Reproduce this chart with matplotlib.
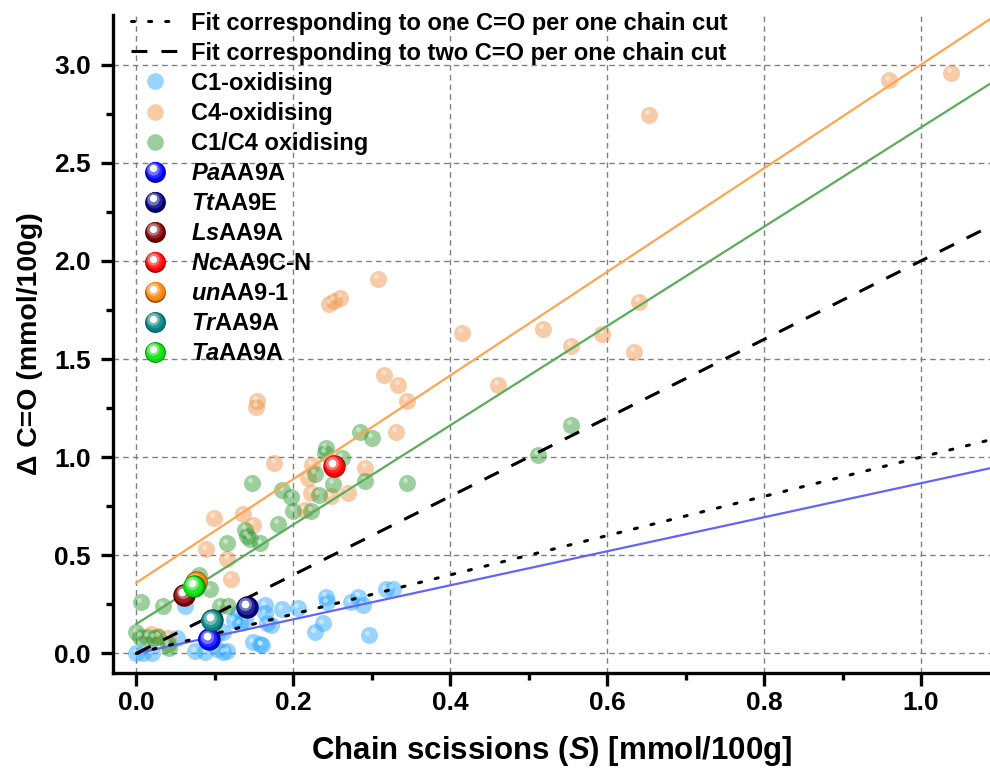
import numpy as np
import matplotlib
matplotlib.use('Agg')
import matplotlib.pyplot as plt
from matplotlib import transforms
from matplotlib.lines import Line2D
from matplotlib.legend_handler import HandlerBase

plt.rcParams['font.family'] = 'Liberation Sans'
plt.rcParams['font.weight'] = 'bold'
plt.rcParams['mathtext.fontset'] = 'custom'
plt.rcParams['mathtext.rm'] = 'Liberation Sans:bold'
plt.rcParams['mathtext.it'] = 'Liberation Sans:italic:bold'
plt.rcParams['mathtext.bf'] = 'Liberation Sans:bold'

# background data
c1_x = [0.164, 0.164, 0.167, 0.185, 0.206, 0.242, 0.243, 0.273, 0.283, 0.289, 0.318, 0.327,
        0.238, 0.228, 0.296, 0.160, 0.062, 0.129, 0.132, 0.148, 0.158, 0.075, 0.088, 0.103,
        0.111, 0.116, 0.000, 0.009, 0.020, 0.052, 0.103, 0.111, 0.124, 0.139, 0.171]
c1_y = [0.245, 0.204, 0.153, 0.224, 0.230, 0.286, 0.260, 0.260, 0.286, 0.245, 0.326, 0.330,
        0.153, 0.107, 0.092, 0.041, 0.240, 0.204, 0.153, 0.056, 0.046, 0.010, 0.005, 0.020,
        0.005, 0.010, 0.000, 0.000, 0.000, 0.080, 0.100, 0.107, 0.168, 0.170, 0.143]

c4_x = [1.038, 0.959, 0.653, 0.308, 0.246, 0.252, 0.260, 0.415, 0.518, 0.641, 0.594, 0.554,
        0.634, 0.316, 0.334, 0.345, 0.461, 0.331, 0.176, 0.292, 0.154, 0.153, 0.224, 0.219,
        0.223, 0.270, 0.248, 0.215, 0.099, 0.136, 0.149, 0.089, 0.116, 0.120, 0.019, 0.027,
        0.040]
c4_y = [2.960, 2.920, 2.745, 1.908, 1.780, 1.796, 1.810, 1.633, 1.653, 1.790, 1.627, 1.566,
        1.536, 1.420, 1.370, 1.285, 1.367, 1.127, 0.969, 0.944, 1.286, 1.255, 0.960, 0.893,
        0.816, 0.816, 0.800, 0.730, 0.690, 0.710, 0.653, 0.530, 0.480, 0.378, 0.100, 0.090,
        0.080]

c14_x = [0.554, 0.512, 0.285, 0.300, 0.242, 0.240, 0.262, 0.228, 0.250, 0.292, 0.345, 0.147,
         0.186, 0.197, 0.233, 0.200, 0.223, 0.180, 0.158, 0.139, 0.141, 0.145, 0.115, 0.080,
         0.094, 0.006, 0.034, 0.107, 0.117, 0.000, 0.005, 0.014, 0.022, 0.028, 0.041, 0.040]
c14_y = [1.163, 1.010, 1.127, 1.100, 1.046, 1.020, 0.995, 0.913, 0.862, 0.878, 0.867, 0.867,
         0.830, 0.796, 0.806, 0.725, 0.725, 0.658, 0.560, 0.630, 0.600, 0.585, 0.560, 0.397,
         0.326, 0.260, 0.240, 0.240, 0.240, 0.107, 0.082, 0.082, 0.077, 0.082, 0.026, 0.050]

# highlighted enzymes
enz_names = [r'$\it{Pa}$AA9A', r'$\it{Tt}$AA9E', r'$\it{Ls}$AA9A', r'$\it{Nc}$AA9C-N',
             r'$\it{un}$AA9-1', r'$\it{Tr}$AA9A', r'$\it{Ta}$AA9A']
enz_colors = ['#0000ff', '#000080', '#800000', '#ff0000', '#ff8000', '#008080', '#00dd00']
enz_x = [0.092, 0.141, 0.061, 0.252, 0.076, 0.096, 0.073]
enz_y = [0.071, 0.235, 0.296, 0.954, 0.362, 0.168, 0.342]

# fits: (slope, intercept)
fit_c1 = (0.867, 0.0)
fit_c4 = (2.64, 0.36)
fit_c14 = (2.53, 0.15)
fit_one = (1.0, 0.0)
fit_two = (2.0, 0.0)

DOTS = (0, (1.0, 4.6))
DASH = (0, (5.2, 4.6))
# sphere shading layers: size fraction, offset (pt), mix to white
LAYERS = [(0.85, 0.4, 0.0), (0.6, 1.2, 0.15), (0.35, 2.0, 0.45), (0.12, 2.4, 1.0)]


def shade(color, mix):
    base = np.array(matplotlib.colors.to_rgb(color))
    return base * (1 - mix) + np.ones(3) * mix


class SphereHandler(HandlerBase):
    def __init__(self, color, ms=15):
        super().__init__()
        self.color = color
        self.ms = ms

    def create_artists(self, legend, orig_handle, xdescent, ydescent, width, height,
                       fontsize, trans):
        cx = width / 2 - xdescent
        cy = height / 2 - ydescent
        base = np.array(matplotlib.colors.to_rgb(self.color))
        arts = [Line2D([cx], [cy], ls='', marker='o', ms=self.ms, mfc=base * 0.6,
                       mec='none', transform=trans)]
        for frac, off, mix in LAYERS:
            arts.append(Line2D([cx - off * 0.6], [cy + off], ls='', marker='o',
                               ms=self.ms * np.sqrt(frac), mfc=shade(self.color, mix),
                               mec='none', transform=trans))
        return arts


fig = plt.figure(figsize=(9.9, 7.7), dpi=100)
ax = fig.add_axes([0.114, 0.126, 0.886, 0.855])

xs = np.array([0.0, 1.2])
ax.plot(xs, fit_c1[0] * xs + fit_c1[1], color='#6464f5', lw=1.6, zorder=3)
ax.plot(xs, fit_c4[0] * xs + fit_c4[1], color='#ffa552', lw=1.6, zorder=3)
ax.plot(xs, fit_c14[0] * xs + fit_c14[1], color='#5aad5a', lw=1.6, zorder=3)
ax.plot(xs, fit_one[0] * xs + fit_one[1], color='black', lw=2.2,
        linestyle=DOTS, dash_capstyle='round', zorder=4)
ax.plot(xs, fit_two[0] * xs + fit_two[1], color='black', lw=2.2,
        linestyle=DASH, zorder=4)


def soft_points(x, y, color, s=150):
    hl = transforms.offset_copy(ax.transData, fig=fig, x=-1.3, y=2.0, units='points')
    ax.scatter(x, y, s=s, color=color, alpha=0.5, lw=0, zorder=2)
    ax.scatter(x, y, s=s * 0.08, color='white', alpha=0.45, lw=0, zorder=2, transform=hl)


def sphere(x, y, color, s=260):
    base = np.array(matplotlib.colors.to_rgb(color))
    ax.scatter([x], [y], s=s, color=[base * 0.6], lw=0, zorder=6)
    for frac, off, mix in LAYERS:
        tr = transforms.offset_copy(ax.transData, fig=fig, x=-off * 0.6, y=off, units='points')
        ax.scatter([x], [y], s=s * frac, color=[shade(color, mix)], lw=0, zorder=6, transform=tr)


soft_points(c1_x, c1_y, '#33aaff')
soft_points(c4_x, c4_y, '#f09850')
soft_points(c14_x, c14_y, '#3c9e3c')
for x, y, c in zip(enz_x, enz_y, enz_colors):
    sphere(x, y, c)

ax.set_xlim(-0.03, 1.088)
ax.set_ylim(-0.1, 3.255)
ax.set_xticks(np.arange(0, 1.01, 0.2))
ax.set_xticks(np.arange(0.1, 1.01, 0.2), minor=True)
ax.set_yticks(np.arange(0, 3.01, 0.5))
ax.set_yticks(np.arange(0.25, 3.01, 0.5), minor=True)
ax.xaxis.set_major_formatter(matplotlib.ticker.FormatStrFormatter('%.1f'))
ax.yaxis.set_major_formatter(matplotlib.ticker.FormatStrFormatter('%.1f'))
ax.grid(True, which='major', color='#808080', linestyle=(0, (4, 3)), lw=1)
ax.set_axisbelow(True)

for side in ['top', 'right']:
    ax.spines[side].set_visible(False)
for side in ['left', 'bottom']:
    ax.spines[side].set_linewidth(2.4)
ax.tick_params(which='major', direction='out', length=9, width=2.4, labelsize=19)
ax.tick_params(which='minor', direction='out', length=5, width=2.4)
ax.tick_params(axis='y', which='major', pad=7)
ax.tick_params(axis='x', which='major', pad=4)

ax.set_xlabel(r'Chain scissions ($\it{S}$) [mmol/100g]', fontsize=22.5, fontweight='bold', labelpad=14)
ax.set_ylabel('Δ C=O (mmol/100g)', fontsize=20.5, fontweight='bold', labelpad=8)

# legend
handles = [Line2D([], [], color='black', lw=2.2, linestyle=DOTS, dash_capstyle='round'),
           Line2D([], [], color='black', lw=2.2, linestyle=DASH)]
labels = ['Fit corresponding to one C=O per one chain cut',
          'Fit corresponding to two C=O per one chain cut']
for c, lab in zip(['#33aaff', '#f09850', '#3c9e3c'],
                  ['C1-oxidising', 'C4-oxidising', 'C1/C4 oxidising']):
    handles.append(Line2D([], [], ls='', marker='o', ms=12, mfc=c, mec='none', alpha=0.5))
    labels.append(lab)
hmap = {}
for c, lab in zip(enz_colors, enz_names):
    h = Line2D([], [], ls='', marker='o', color=c)
    hmap[h] = SphereHandler(c)
    handles.append(h)
    labels.append(lab)

leg = ax.legend(handles, labels, loc='upper left', bbox_to_anchor=(-0.003, 1.037),
                frameon=False, fontsize=17, labelspacing=0.3, handlelength=2.0,
                handletextpad=0.5, handler_map=hmap)
leg.set_zorder(10)

fig.savefig('out.png', dpi=100)
